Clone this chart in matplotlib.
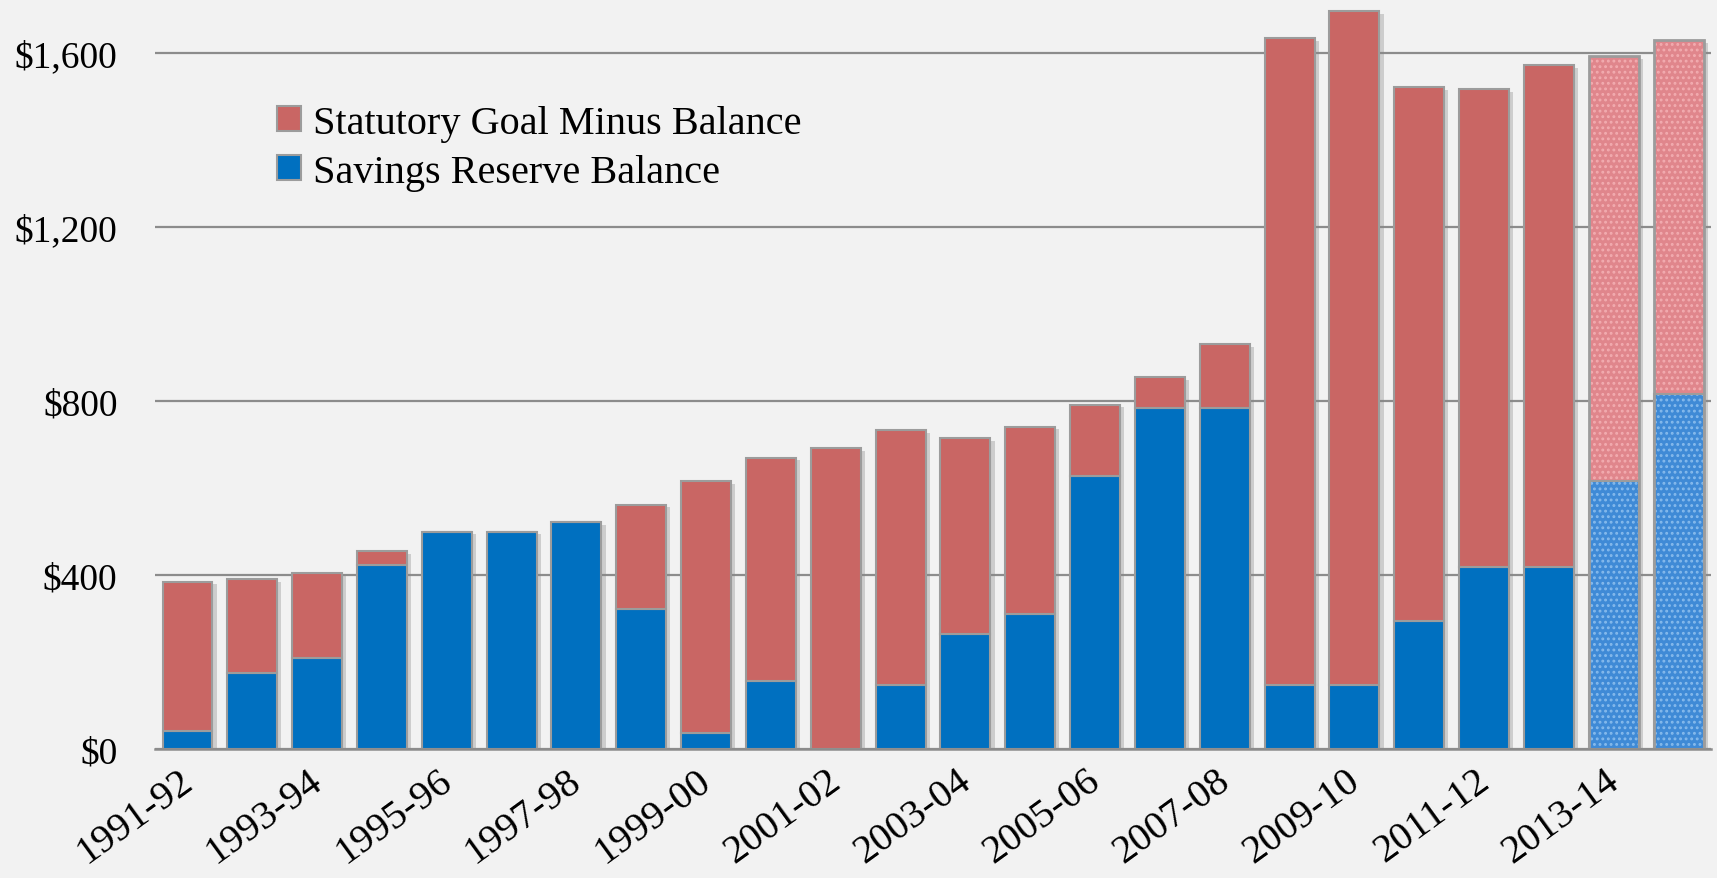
import numpy as np
import matplotlib.pyplot as plt
import matplotlib.patheffects as pe
from matplotlib.transforms import ScaledTranslation

# fiscal years, savings reserve balance and statutory goal (total bar height)
years = ["1991-92", "1992-93", "1993-94", "1994-95", "1995-96", "1996-97",
         "1997-98", "1998-99", "1999-00", "2000-01", "2001-02", "2002-03",
         "2003-04", "2004-05", "2005-06", "2006-07", "2007-08", "2008-09",
         "2009-10", "2010-11", "2011-12", "2012-13", "2013-14", "2014-15"]
balance = [41, 175, 210, 422, 500, 500, 521, 321, 37, 157, 0, 148,
           265, 311, 627, 783, 783, 148, 148, 294, 418, 418, 616, 816]
goal = [385, 390, 404, 455, 500, 500, 521, 562, 615, 670, 692, 733,
        714, 741, 792, 855, 931, 1635, 1697, 1522, 1517, 1573, 1593, 1630]
projected = [False] * 22 + [True, True]
tick_labels = years[::2]

gap = np.array(goal) - np.array(balance)

plt.rcParams['font.family'] = ['Liberation Serif', 'DejaVu Serif']
plt.rcParams['hatch.linewidth'] = 1.3

fig = plt.figure(figsize=(17.17, 8.79), dpi=100, facecolor='#f2f2f2')
ax = fig.add_axes([0.0903, 0.1468, 0.9062, 0.851])
ax.set_facecolor('none')

x = np.arange(len(years))
w = 0.77
red, blue = '#c96664', '#0070c0'
edge = '#9c9c9c'

# soft drop shadow behind every column
ax.bar(x, goal, w, color='none', lw=0, zorder=2,
       path_effects=[pe.SimplePatchShadow(offset=(3, -2), shadow_rgbFace='#888888', alpha=0.35)])

for i in x:
    if projected[i]:
        # lighter, dotted fill for the projected years
        ax.bar(i, balance[i], w, color='#3f8ad6', hatch='...', edgecolor='#86baec', lw=0, zorder=3)
        ax.bar(i, gap[i], w, bottom=balance[i], color='#e0868c', hatch='...', edgecolor='#f2acb0', lw=0, zorder=3)
        ax.bar(i, goal[i], w, fill=False, edgecolor=edge, lw=2, zorder=4)
        ax.bar(i, balance[i], w, fill=False, edgecolor=edge, lw=1.5, zorder=4)
    else:
        ax.bar(i, balance[i], w, color=blue, edgecolor=edge, lw=1.5, zorder=3)
        ax.bar(i, gap[i], w, bottom=balance[i], color=red, edgecolor=edge, lw=1.5, zorder=3)

# legend proxies
h_red = ax.bar([0], [0], color=red, edgecolor=edge, lw=1.5)
h_blue = ax.bar([0], [0], color=blue, edgecolor=edge, lw=1.5)
leg = fig.legend([h_red, h_blue], ["Statutory Goal Minus Balance", "Savings Reserve Balance"],
                 loc='upper left', bbox_to_anchor=(0.14, 0.921), frameon=False, fontsize=29,
                 handlelength=0.6, handleheight=0.6, handletextpad=0.3, labelspacing=0.3)

ax.set_xlim(-0.5, len(years) - 0.5)
ax.set_ylim(0, 1720)
ax.set_yticks([0, 400, 800, 1200, 1600])
ax.set_yticklabels(["$0", "$400", "$800", "$1,200", "$1,600"])
ax.yaxis.grid(True, color='#8c8c8c', lw=1.6, zorder=0)
ax.set_axisbelow(True)
ax.set_xticks(x[::2])
ax.set_xticklabels(tick_labels, rotation=36, ha='right', rotation_mode='anchor')
ax.tick_params(axis='y', length=0, pad=27, labelsize=27)
ax.tick_params(axis='x', length=0, pad=9, labelsize=29)
for lbl in ax.get_xticklabels():
    lbl.set_transform(lbl.get_transform() + ScaledTranslation(-7 / 72, 0, fig.dpi_scale_trans))
for s in ['top', 'right', 'left']:
    ax.spines[s].set_visible(False)
ax.spines['bottom'].set_color('#8c8c8c')
ax.spines['bottom'].set_linewidth(1.8)
ax.spines['bottom'].set_zorder(5)

fig.savefig('out.png', dpi=100, facecolor=fig.get_facecolor())
